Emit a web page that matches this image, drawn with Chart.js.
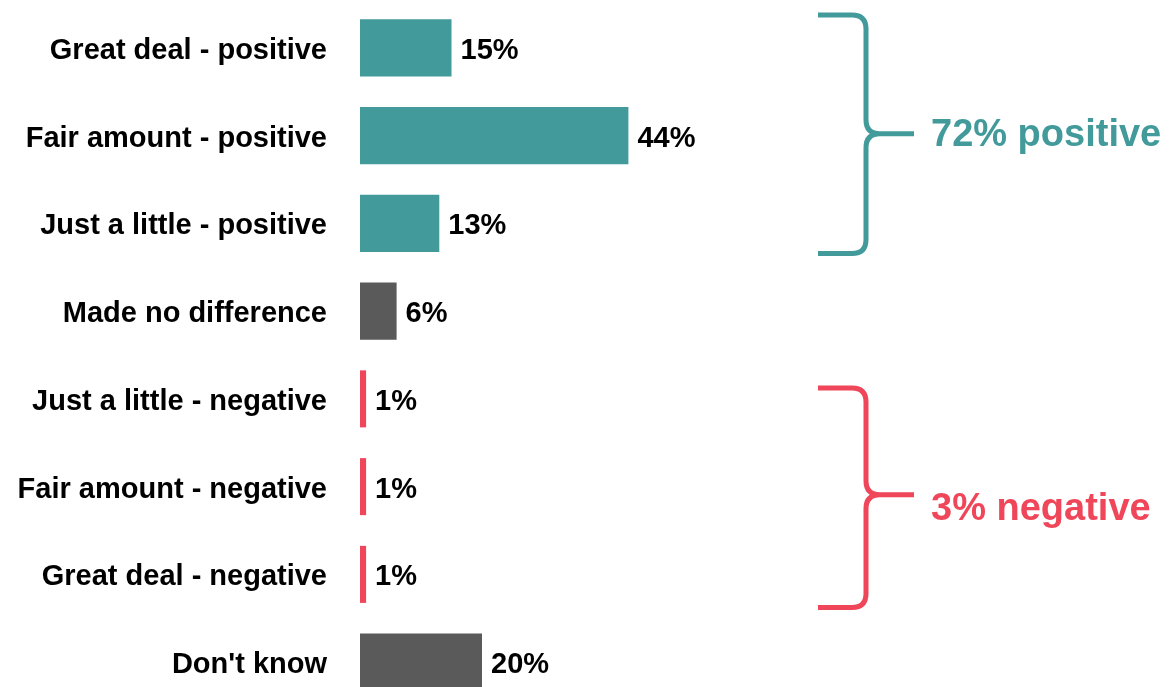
<!DOCTYPE html>
<html>
<head>
<meta charset="utf-8">
<script src="https://cdn.jsdelivr.net/npm/chart.js@4"></script>
<style>
  html, body { margin: 0; padding: 0; background: #ffffff; overflow: hidden; }
  #wrap { width: 1173px; height: 706px; position: relative; }
</style>
</head>
<body>
<div id="wrap"><canvas id="c"></canvas></div>
<script>
// Survey answers: how much of a difference, and in which direction
const categories = [
  'Great deal - positive',
  'Fair amount - positive',
  'Just a little - positive',
  'Made no difference',
  'Just a little - negative',
  'Fair amount - negative',
  'Great deal - negative',
  "Don't know"
];
const shares = [15, 44, 13, 6, 1, 1, 1, 20];
const groups = ['pos', 'pos', 'pos', 'neutral', 'neg', 'neg', 'neg', 'neutral'];
const summaryLabels = ['72% positive', '3% negative'];

const TEAL = '#429a9b';
const RED = '#ef4659';
const GRAY = '#5a5a5a';
const groupColor = { pos: TEAL, neg: RED, neutral: GRAY };
const LABEL_FONT = 'bold 29px "Liberation Sans", Arial, sans-serif';

// Percent text at the end of each bar
const valueLabels = {
  id: 'valueLabels',
  afterDatasetsDraw(chart) {
    const ctx = chart.ctx;
    const meta = chart.getDatasetMeta(0);
    ctx.save();
    ctx.font = LABEL_FONT;
    ctx.fillStyle = '#000000';
    ctx.textAlign = 'left';
    ctx.textBaseline = 'middle';
    meta.data.forEach((bar, i) => {
      ctx.fillText(shares[i] + '%', bar.x + 9, bar.y + 3);
    });
    ctx.restore();
  }
};

// Curly brace with a summary caption to the right of a group of rows
function drawBrace(ctx, x0, xs, xp, top, bottom, mid, color) {
  const r = 14;
  ctx.beginPath();
  ctx.moveTo(x0, top);
  ctx.lineTo(xs - r, top);
  ctx.quadraticCurveTo(xs, top, xs, top + r);
  ctx.lineTo(xs, mid - r);
  ctx.quadraticCurveTo(xs, mid, xs + r, mid);
  ctx.lineTo(xp, mid);
  ctx.moveTo(xs + r, mid);
  ctx.quadraticCurveTo(xs, mid, xs, mid + r);
  ctx.lineTo(xs, bottom - r);
  ctx.quadraticCurveTo(xs, bottom, xs - r, bottom);
  ctx.lineTo(x0, bottom);
  ctx.strokeStyle = color;
  ctx.lineWidth = 5;
  ctx.lineCap = 'butt';
  ctx.lineJoin = 'round';
  ctx.stroke();
}

const braces = {
  id: 'braces',
  afterDraw(chart) {
    const ctx = chart.ctx;
    const y = chart.scales.y;
    const specs = [
      { from: 0, to: 2, color: TEAL, text: summaryLabels[0], dTop: -33, dBot: 30, dMid: -2, dText: 0 },
      { from: 4, to: 6, color: RED, text: summaryLabels[1], dTop: -11, dBot: 33, dMid: 8, dText: 13 }
    ];
    specs.forEach(s => {
      const top = y.getPixelForValue(s.from) + s.dTop;
      const bottom = y.getPixelForValue(s.to) + s.dBot;
      const mid = y.getPixelForValue((s.from + s.to) / 2) + s.dMid;
      drawBrace(ctx, 818, 866, 914, top, bottom, mid, s.color);
      ctx.save();
      ctx.font = 'bold 38px "Liberation Sans", Arial, sans-serif';
      ctx.fillStyle = s.color;
      ctx.textAlign = 'left';
      ctx.textBaseline = 'middle';
      ctx.fillText(s.text, 931, mid + s.dText + 2);
      ctx.restore();
    });
  }
};

new Chart(document.getElementById('c'), {
  type: 'bar',
  data: {
    labels: categories,
    datasets: [{
      data: shares,
      backgroundColor: groups.map(g => groupColor[g]),
      borderWidth: 0,
      barPercentage: 0.65,
      categoryPercentage: 1.0
    }]
  },
  options: {
    indexAxis: 'y',
    responsive: true,
    maintainAspectRatio: false,
    animation: false,
    layout: { padding: { top: 4, right: 203, bottom: 0, left: 0 } },
    plugins: { legend: { display: false }, tooltip: { enabled: false } },
    scales: {
      x: {
        min: 0,
        max: 100,
        display: false
      },
      y: {
        afterFit(scale) {
          scale.width = 360;
          scale.paddingTop = 0;
          scale.paddingBottom = 0;
        },
        grid: { display: false, drawTicks: false },
        border: { display: false },
        ticks: {
          padding: 33,
          labelOffset: 3,
          color: '#000000',
          font: { family: '"Liberation Sans", Arial, sans-serif', weight: 'bold', size: 29 }
        }
      }
    }
  },
  plugins: [valueLabels, braces]
});
</script>
</body>
</html>
